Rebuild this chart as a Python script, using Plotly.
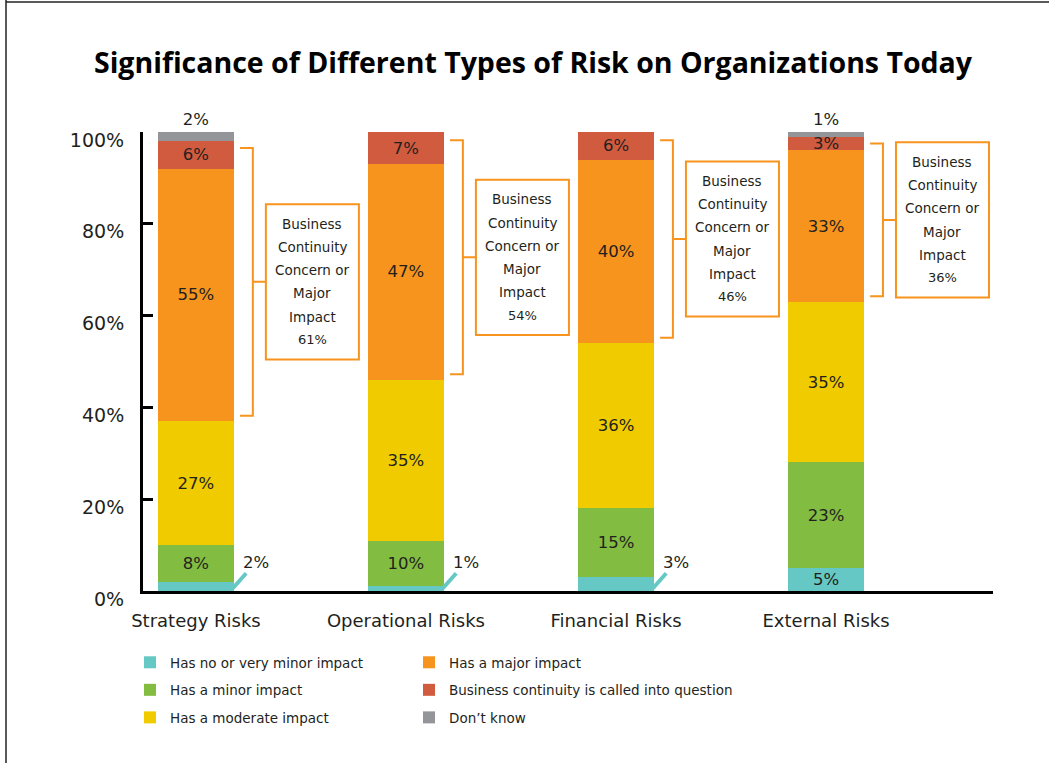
import plotly.graph_objects as go

CATEGORIES = ["Strategy Risks", "Operational Risks", "Financial Risks", "External Risks"]
NO_IMPACT = [2, 1, 3, 5]
MINOR = [8, 10, 15, 23]
MODERATE = [27, 35, 36, 35]
MAJOR = [55, 47, 40, 33]
CONTINUITY = [6, 7, 6, 3]
DONT_KNOW = [2, 0, 0, 1]

SERIES_NAMES = ["Has no or very minor impact", "Has a minor impact", "Has a moderate impact",
                "Has a major impact", "Business continuity is called into question", "Don’t know"]
SERIES = [NO_IMPACT, MINOR, MODERATE, MAJOR, CONTINUITY, DONT_KNOW]
COLORS = ["#66c8c4", "#82bc41", "#f0cb00", "#f7941e", "#d15b3f", "#939598"]
BOX_LINES = ["Business", "Continuity", "Concern or", "Major", "Impact"]

TXT = "#231f20"
ORANGE = "#f7941e"
FONT = "DejaVu Sans"
TITLE_FONT = "Open Sans"

# plot area in pixels
W, H = 1049, 763
ML, MR, MT, MB = 143, 56, 132, 172
PW, PH = W - ML - MR, H - MT - MB
BOTTOM = H - MB


def px_x(p):
    return (p - ML) / PW


def px_y(p):
    return (BOTTOM - p) / PH


x = list(range(len(CATEGORIES)))
fig = go.Figure()

for i, (name, vals, color) in enumerate(zip(SERIES_NAMES, SERIES, COLORS)):
    if i == 0:
        text = [f"{v}%" if v >= 5 else "" for v in vals]
    else:
        text = [f"{v}%" if v else "" for v in vals]
    fig.add_trace(go.Bar(
        x=x, y=vals, name=name, width=0.362,
        marker=dict(color=color, line=dict(width=0)),
        text=text, textposition="outside" if i == 5 else "inside",
        insidetextanchor="middle", textangle=0, constraintext="none",
        textfont=dict(size=16.5, color=TXT, family=FONT),
        cliponaxis=False,
        legend="legend" if i < 3 else "legend2", legendgroup=name,
        hovertemplate="%{fullData.name}: %{y}%<extra></extra>",
    ))

# small "no impact" values with leader lines
for i, v in enumerate(NO_IMPACT):
    if v < 5:
        fig.add_annotation(x=i + 0.176, y=0.6, text=f"{v}%", showarrow=True,
                           arrowhead=0, arrowwidth=4, arrowcolor=COLORS[0],
                           ax=23, ay=-26, font=dict(size=16.5, color=TXT, family=FONT))

# brackets + boxes for major impact + continuity
for i in x:
    lo = NO_IMPACT[i] + MINOR[i] + MODERATE[i]
    top = lo + MAJOR[i] + CONTINUITY[i]
    b0, b1 = lo + 1.2, min(top - 1.5, 98.2)
    mid = (b0 + b1) / 2
    xa, xb, xc, xd = i + 0.21, i + 0.271, i + 0.333, i + 0.776
    fig.add_shape(type="path", xref="x", yref="y",
                  path=f"M{xa},{b0} L{xb},{b0} L{xb},{b1} L{xa},{b1} M{xb},{mid} L{xc},{mid}",
                  line=dict(color=ORANGE, width=2))
    fig.add_shape(type="rect", xref="x", yref="y", x0=xc, x1=xd,
                  y0=mid - 16.9, y1=mid + 16.9, line=dict(color=ORANGE, width=2),
                  fillcolor="white")
    lines = BOX_LINES + [f"{MAJOR[i] + CONTINUITY[i]}%"]
    for k, line in enumerate(lines):
        fig.add_annotation(x=(xc + xd) / 2, y=mid, text=line, showarrow=False,
                           yshift=-(k - 2.5) * 23.2,
                           font=dict(size=13.5 if k < 5 else 13, color=TXT, family=FONT))

# outer frame (left and top edges)
fig.add_shape(type="line", xref="paper", yref="paper", x0=px_x(6), x1=px_x(6),
              y0=px_y(0), y1=px_y(H), line=dict(color="#222", width=1.5))
fig.add_shape(type="line", xref="paper", yref="paper", x0=px_x(6), x1=px_x(W),
              y0=px_y(2), y1=px_y(2), line=dict(color="#222", width=1.5))

legend_style = dict(xanchor="left", yanchor="top", orientation="v", tracegroupgap=7,
                    traceorder="grouped", bgcolor="rgba(0,0,0,0)",
                    font=dict(size=13.5, color=TXT, family=FONT))

fig.update_layout(
    width=W, height=H,
    margin=dict(l=ML, r=MR, t=MT, b=MB),
    barmode="stack",
    plot_bgcolor="white", paper_bgcolor="white",
    font=dict(family=FONT, color=TXT),
    title=dict(text="<b>Significance of Different Types of Risk on Organizations Today</b>",
               x=533 / W, xanchor="center", y=1 - 63 / H, yanchor="middle",
               font=dict(size=28.5, color="black", family=TITLE_FONT)),
    xaxis=dict(range=[-0.252, 3.795], tickvals=x, ticktext=CATEGORIES,
               showline=True, linewidth=3, linecolor="black", ticks="",
               showgrid=False, zeroline=False, ticklabelstandoff=11,
               tickfont=dict(size=18, color=TXT, family=FONT)),
    yaxis=dict(range=[0, 100], tickvals=[0, 20, 40, 60, 80, 100],
               ticktext=["0%", "20%", "40%", "60%", "80%", "100%"],
               showline=True, linewidth=3, linecolor="black",
               ticks="inside", ticklen=10, tickwidth=3, tickcolor="black",
               showgrid=False, zeroline=False, ticklabelstandoff=12, ticklabelshift=8,
               tickfont=dict(size=19, color=TXT, family=FONT)),
    legend=dict(x=px_x(130), y=px_y(647), **legend_style),
    legend2=dict(x=px_x(409), y=px_y(647), **legend_style),
)

fig.write_html("out.html", config={"displayModeBar": False},
               post_script="document.body.style.margin='0';")
